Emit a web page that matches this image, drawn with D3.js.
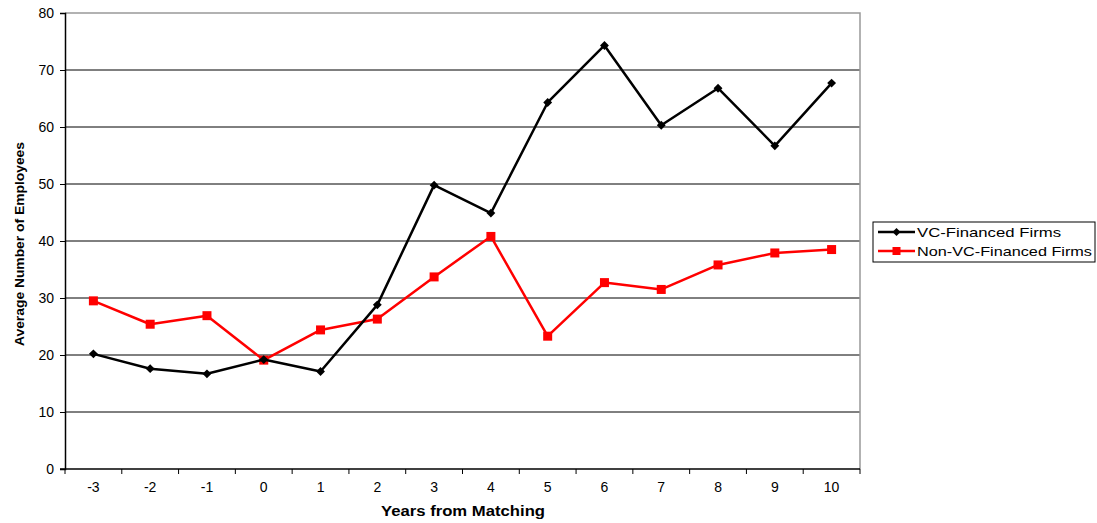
<!DOCTYPE html>
<html>
<head>
<meta charset="utf-8">
<script src="https://cdn.jsdelivr.net/npm/d3@7"></script>
<style>
  html, body { margin: 0; padding: 0; background: #fff; }
  svg { display: block; font-family: "Liberation Sans", Arial, sans-serif; }
</style>
</head>
<body>
<svg id="chart" width="1097" height="523"></svg>
<script>
// Years relative to the matching year
const years = ["-3", "-2", "-1", "0", "1", "2", "3", "4", "5", "6", "7", "8", "9", "10"];
// Average employee counts per group
const vcFinanced = [20.2, 17.6, 16.7, 19.2, 17.1, 28.8, 49.8, 44.9, 64.3, 74.3, 60.3, 66.8, 56.7, 67.7];
const nonVcFinanced = [29.5, 25.4, 26.9, 19.1, 24.4, 26.3, 33.7, 40.8, 23.3, 32.7, 31.5, 35.8, 37.9, 38.5];
const yTicks = [0, 10, 20, 30, 40, 50, 60, 70, 80];
const seriesNames = ["VC-Financed Firms", "Non-VC-Financed Firms"];

const svg = d3.select("#chart");
const plot = { left: 65, right: 860, top: 13, bottom: 469 };

const x = d3.scaleBand().domain(years).range([plot.left, plot.right]);
const y = d3.scaleLinear().domain([0, 80]).range([plot.bottom, plot.top]);

// Horizontal gridlines
svg.append("g")
  .selectAll("line")
  .data(yTicks.filter(d => d > 0 && d < 80))
  .join("line")
  .attr("x1", plot.left).attr("x2", plot.right)
  .attr("y1", d => y(d)).attr("y2", d => y(d))
  .attr("stroke", "#000").attr("stroke-width", 1);

// Plot-area frame (top and right)
svg.append("path")
  .attr("d", `M${plot.left},${y(80)}H${plot.right}V${plot.bottom}`)
  .attr("fill", "none").attr("stroke", "#999").attr("stroke-width", 1.5);

// Y axis
const yAxis = svg.append("g")
  .attr("transform", `translate(${plot.left},0)`)
  .call(d3.axisLeft(y).tickValues(yTicks).tickSize(5).tickPadding(6));
yAxis.select(".domain").attr("stroke", "#000").attr("stroke-width", 1.5);
yAxis.selectAll(".tick line").attr("stroke", "#000");
yAxis.selectAll(".tick text").attr("font-size", 14).attr("fill", "#000")
  .attr("font-family", "Liberation Sans, Arial, sans-serif");

// X axis: ticks at category boundaries, labels centred in each band
const xAxisG = svg.append("g").attr("transform", `translate(0,${plot.bottom})`);
xAxisG.append("line")
  .attr("x1", plot.left - 5).attr("x2", plot.right)
  .attr("stroke", "#000").attr("stroke-width", 1.5);
const boundaries = years.map(d => x(d)).concat([x(years[years.length - 1]) + x.bandwidth()]);
xAxisG.selectAll("line.tick")
  .data(boundaries)
  .join("line")
  .attr("class", "tick")
  .attr("x1", d => d).attr("x2", d => d)
  .attr("y1", 0).attr("y2", 5)
  .attr("stroke", "#000").attr("stroke-width", 1);
xAxisG.selectAll("text")
  .data(years)
  .join("text")
  .attr("x", d => x(d) + x.bandwidth() / 2)
  .attr("y", 23)
  .attr("text-anchor", "middle")
  .attr("font-size", 14)
  .text(d => d);

// Axis titles
svg.append("text")
  .attr("x", 463)
  .attr("y", 516)
  .attr("text-anchor", "middle")
  .attr("font-size", 14.5).attr("font-weight", "bold")
  .attr("textLength", 164).attr("lengthAdjust", "spacingAndGlyphs")
  .text("Years from Matching");
svg.append("text")
  .attr("transform", `translate(24,244) rotate(-90)`)
  .attr("text-anchor", "middle")
  .attr("font-size", 12).attr("font-weight", "bold")
  .attr("textLength", 204).attr("lengthAdjust", "spacingAndGlyphs")
  .text("Average Number of Employees");

const line = d3.line()
  .x((d, i) => x(years[i]) + x.bandwidth() / 2)
  .y(d => y(d));

// Non-VC series (drawn first, beneath)
svg.append("path")
  .datum(nonVcFinanced)
  .attr("d", line)
  .attr("fill", "none").attr("stroke", "#ff0000").attr("stroke-width", 2.5)
  .attr("stroke-linejoin", "round");
svg.append("g")
  .selectAll("rect")
  .data(nonVcFinanced)
  .join("rect")
  .attr("x", (d, i) => x(years[i]) + x.bandwidth() / 2 - 4.5)
  .attr("y", d => y(d) - 4.5)
  .attr("width", 9).attr("height", 9)
  .attr("fill", "#ff0000");

// VC series
svg.append("path")
  .datum(vcFinanced)
  .attr("d", line)
  .attr("fill", "none").attr("stroke", "#000").attr("stroke-width", 2.5)
  .attr("stroke-linejoin", "round");
const diamond = d3.symbol().type(d3.symbolDiamond2).size(50);
svg.append("g")
  .selectAll("path")
  .data(vcFinanced)
  .join("path")
  .attr("transform", (d, i) => `translate(${x(years[i]) + x.bandwidth() / 2},${y(d)})`)
  .attr("d", diamond)
  .attr("fill", "#000");

// Legend
const legend = svg.append("g").attr("transform", "translate(873,222)");
legend.append("rect")
  .attr("x", 0).attr("y", 0).attr("width", 222).attr("height", 40)
  .attr("fill", "#fff").attr("stroke", "#000").attr("stroke-width", 1);
const colors = ["#000", "#ff0000"];
const legendWidths = [144, 175];
seriesNames.forEach((name, i) => {
  const g = legend.append("g").attr("transform", `translate(0,${10 + i * 19})`);
  g.append("line").attr("x1", 5).attr("x2", 42).attr("y1", 0).attr("y2", 0)
    .attr("stroke", colors[i]).attr("stroke-width", 2.5);
  if (i === 0) {
    g.append("path").attr("transform", "translate(23.5,0)")
      .attr("d", d3.symbol().type(d3.symbolDiamond2).size(40)).attr("fill", colors[i]);
  } else {
    g.append("rect").attr("x", 19.5).attr("y", -4).attr("width", 8).attr("height", 8)
      .attr("fill", colors[i]);
  }
  g.append("text").attr("x", 44).attr("y", 5)
    .attr("font-size", 13.5)
    .attr("textLength", legendWidths[i]).attr("lengthAdjust", "spacingAndGlyphs")
    .text(name);
});
</script>
</body>
</html>
